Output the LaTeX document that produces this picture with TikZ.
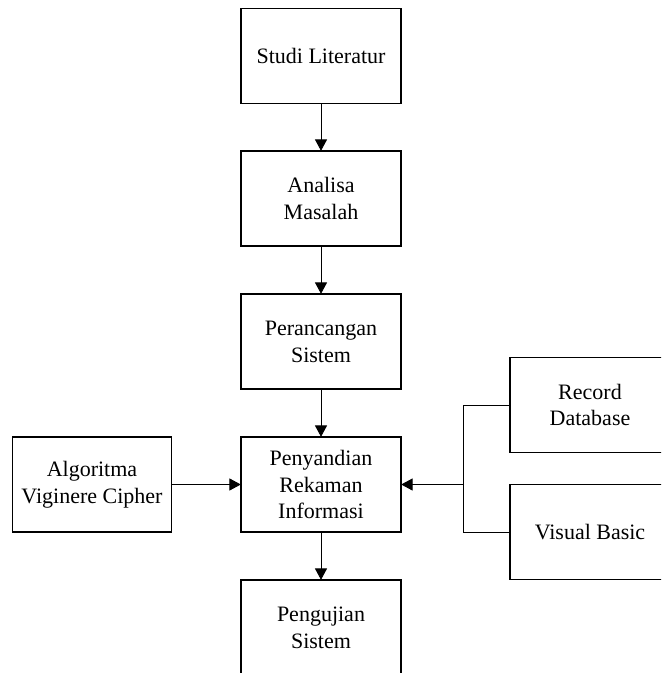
\documentclass[tikz,border=0pt]{standalone}
\usepackage{fontspec}
\setmainfont{Liberation Serif}
\usetikzlibrary{arrows.meta}
\tikzset{
  box/.style={draw, line width=0.9pt, minimum width=120pt, minimum height=71.25pt,
    align=center, inner sep=0pt, font=\fontsize{16.5}{20.2}\selectfont},
  link/.style={line width=0.6pt},
  arr/.style={link, -{Triangle[width=9pt,length=8.5pt]}, shorten >=-0.3pt}
}

\begin{document}
\begin{tikzpicture}[x=0.75pt,y=-0.75pt]
		%%%%% START %%%%%
		\useasboundingbox (0,0) rectangle (661,673);
		\clip (0,0) rectangle (661,673);
		
		\node[box] (studi) at (321, 55.7) {Studi Literatur};
		\node[box] (analisa) at (321, 198.5) {Analisa\\Masalah};
		\node[box] (rancang) at (321, 341.5) {Perancangan\\Sistem};
		\node[box] (sandi) at (321, 484.5) {Penyandian\\Rekaman\\Informasi};
		\node[box] (uji) at (321, 627.5) {Pengujian\\Sistem};
		
		\node[box, minimum width=119.25pt] (algo) at (92, 484.5) {Algoritma\\Viginere Cipher};
		\node[box] (record) at (590, 405) {Record\\Database};
		\node[box] (vb) at (590, 532) {Visual Basic};
		\coordinate (jn) at (463, 484.5);
		
		\draw[arr] (studi) -- (analisa);
		\draw[arr] (analisa) -- (rancang);
		\draw[arr] (rancang) -- (sandi);
		\draw[arr] (sandi) -- (uji);
		
		\draw[arr] (algo) -- (sandi);
		\draw[link] (record.west) -| (jn);
		\draw[link] (vb.west) -| (jn);
		\draw[arr] (jn) -- (sandi.east);
		
		%%%%% END %%%%%
	\end{tikzpicture}
\end{document}
